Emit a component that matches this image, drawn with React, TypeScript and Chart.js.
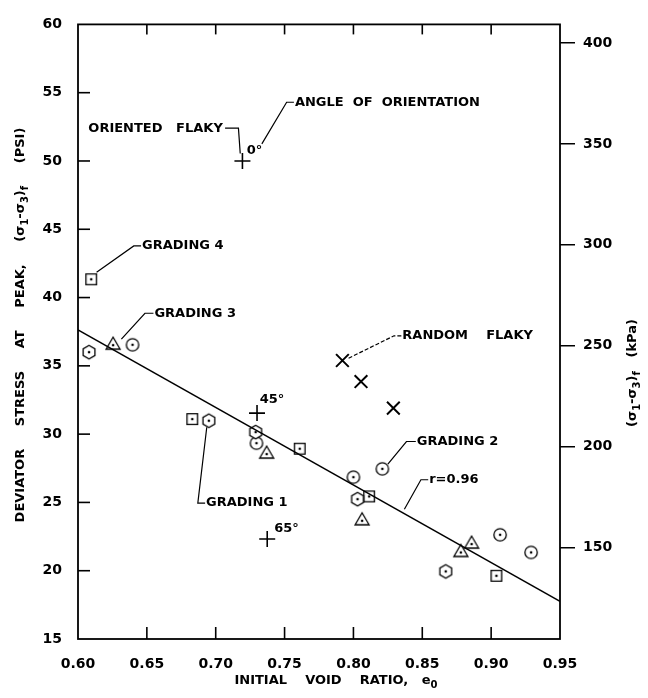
import React, { useEffect, useRef } from 'react';
import { Chart, registerables } from 'chart.js';

Chart.register(...registerables);

// ---------- data ----------
const xTicks = [0.6, 0.65, 0.7, 0.75, 0.8, 0.85, 0.9, 0.95];
const xTickLabels = ['0.60', '0.65', '0.70', '0.75', '0.80', '0.85', '0.90', '0.95'];
const psiTicks = [15, 20, 25, 30, 35, 40, 45, 50, 55, 60];
const kpaTicks = [150, 200, 250, 300, 350, 400];

const grading1X = [0.608, 0.695, 0.729, 0.803, 0.867];
const grading1Y = [36.0, 30.98, 30.15, 25.24, 19.95];
const grading2X = [0.6396, 0.7296, 0.8, 0.821, 0.9065, 0.929];
const grading2Y = [36.54, 29.34, 26.85, 27.46, 22.63, 21.34];
const grading3X = [0.6255, 0.737, 0.8063, 0.878, 0.8858];
const grading3Y = [36.59, 28.61, 23.73, 21.41, 22.02];
const grading4X = [0.6096, 0.683, 0.761, 0.8114, 0.9038];
const grading4Y = [41.34, 31.1, 28.93, 25.44, 19.63];
const orientedX = [0.7194, 0.73, 0.7374];
const orientedY = [50.0, 31.54, 22.32];
const randomX = [0.792, 0.8055, 0.829];
const randomY = [35.39, 33.85, 31.9];
const fitX = [0.6, 0.95];
const fitY = [37.63, 17.76];

type Ann = { text: string; x: number; y: number; leader?: number[][]; dash?: number[] };
const annotations: Ann[] = [
  { text: 'ORIENTED   FLAKY', x: 0.6075, y: 52.4, leader: [[0.7068, 52.4], [0.7165, 52.4], [0.7178, 50.55]] },
  { text: '0°', x: 0.7225, y: 50.75 },
  { text: 'ANGLE  OF  ORIENTATION', x: 0.7575, y: 54.3, leader: [[0.7568, 54.3], [0.7515, 54.3], [0.7335, 51.25]] },
  { text: 'GRADING 4', x: 0.6465, y: 43.78, leader: [[0.6458, 43.78], [0.6405, 43.78], [0.6135, 41.85]] },
  { text: 'GRADING 3', x: 0.6555, y: 38.85, leader: [[0.6548, 38.85], [0.6486, 38.85], [0.6315, 36.95]] },
  { text: 'RANDOM    FLAKY', x: 0.8355, y: 37.2, leader: [[0.8348, 37.2], [0.8295, 37.2], [0.7965, 35.56]], dash: [4, 2] },
  { text: '45°', x: 0.732, y: 32.5 },
  { text: 'GRADING 2', x: 0.846, y: 29.46, leader: [[0.8453, 29.46], [0.8385, 29.46], [0.825, 27.8]] },
  { text: 'GRADING 1', x: 0.693, y: 24.95, leader: [[0.6923, 24.95], [0.687, 24.95], [0.6935, 30.5]] },
  { text: '65°', x: 0.7425, y: 23.1 },
  { text: 'r=0.96', x: 0.855, y: 26.66, leader: [[0.8543, 26.66], [0.849, 26.66], [0.837, 24.5]] },
];

const FONT = '"DejaVu Sans"';

function makeMarker(kind: string): HTMLCanvasElement {
  const size = 20;
  const c = document.createElement('canvas');
  c.width = size;
  c.height = size;
  const g = c.getContext('2d')!;
  g.strokeStyle = '#000';
  g.fillStyle = '#000';
  g.lineWidth = 1.3;
  const cx = size / 2;
  const cy = size / 2;
  g.beginPath();
  let dy = 0;
  if (kind === 'circle') {
    g.arc(cx, cy, 6.2, 0, Math.PI * 2);
  } else if (kind === 'square') {
    g.rect(cx - 5.3, cy - 5.3, 10.6, 10.6);
  } else if (kind === 'triangle') {
    g.moveTo(cx, cy - 7);
    g.lineTo(cx + 7, cy + 5);
    g.lineTo(cx - 7, cy + 5);
    g.closePath();
    dy = 1;
  } else {
    for (let i = 0; i < 6; i++) {
      const a = -Math.PI / 2 + (i * Math.PI) / 3;
      const px = cx + 6.8 * Math.cos(a);
      const py = cy + 6.8 * Math.sin(a);
      if (i === 0) g.moveTo(px, py);
      else g.lineTo(px, py);
    }
    g.closePath();
  }
  g.fillStyle = '#fff';
  g.fill();
  g.stroke();
  g.fillStyle = '#000';
  g.beginPath();
  g.arc(cx, cy + dy, 1.3, 0, Math.PI * 2);
  g.fill();
  return c;
}

type Part = [string, boolean];
function drawRich(ctx: CanvasRenderingContext2D, parts: Part[], cx: number, cy: number, size: number) {
  const main = `bold ${size}px ${FONT}`;
  const sub = `bold ${Math.round(size * 0.75)}px ${FONT}`;
  let total = 0;
  parts.forEach(([t, s]) => {
    ctx.font = s ? sub : main;
    total += ctx.measureText(t).width;
  });
  let x = cx - total / 2;
  ctx.textAlign = 'left';
  ctx.textBaseline = 'middle';
  parts.forEach(([t, s]) => {
    ctx.font = s ? sub : main;
    ctx.fillText(t, x, s ? cy + 4 : cy);
    x += ctx.measureText(t).width;
  });
}

const sigmaParts: Part[] = [['(σ', false], ['1', true], ['-σ', false], ['3', true], [')', false], ['f', true]];

const titlePlugin = {
  id: 'titles',
  afterDraw(chart: any) {
    const ctx: CanvasRenderingContext2D = chart.ctx;
    ctx.save();
    ctx.fillStyle = '#000';
    // x title
    drawRich(ctx, [['INITIAL    VOID    RATIO,   e', false], ['0', true]], 336, 681, 13);
    // left title
    ctx.save();
    ctx.translate(21, 325);
    ctx.rotate(-Math.PI / 2);
    drawRich(ctx, [['DEVIATOR     STRESS     AT     PEAK,     ', false], ...sigmaParts, ['     (PSI)', false]], 0, 0, 13);
    ctx.restore();
    // right title
    ctx.save();
    ctx.translate(633, 373);
    ctx.rotate(-Math.PI / 2);
    drawRich(ctx, [...sigmaParts, ['   (kPa)', false]], 0, 0, 13);
    ctx.restore();
    ctx.restore();
  },
};

const framePlugin = {
  id: 'frame',
  afterDatasetsDraw(chart: any) {
    const { ctx, chartArea, scales } = chart;
    const { left, right, top, bottom } = chartArea;
    ctx.save();
    ctx.strokeStyle = '#000';
    ctx.lineWidth = 1.8;
    ctx.strokeRect(left, top, right - left, bottom - top);
    ctx.lineWidth = 1.6;
    const seg = (a: number, b: number, c: number, d: number) => {
      ctx.beginPath();
      ctx.moveTo(a, b);
      ctx.lineTo(c, d);
      ctx.stroke();
    };
    xTicks.slice(1, -1).forEach((v) => {
      const px = scales.x.getPixelForValue(v);
      seg(px, top, px, top + 10);
      seg(px, bottom, px, bottom - 12);
    });
    psiTicks.slice(1, -1).forEach((v) => {
      const py = scales.y.getPixelForValue(v);
      seg(left, py, left + 12, py);
    });
    // annotations
    ctx.fillStyle = '#000';
    ctx.font = `bold 13px ${FONT}`;
    ctx.textAlign = 'left';
    ctx.textBaseline = 'middle';
    annotations.forEach((a) => {
      ctx.fillText(a.text, scales.x.getPixelForValue(a.x), scales.y.getPixelForValue(a.y));
      if (a.leader) {
        ctx.lineWidth = 1.2;
        ctx.setLineDash(a.dash || []);
        ctx.beginPath();
        a.leader.forEach(([lx, ly], i) => {
          const px = scales.x.getPixelForValue(lx);
          const py = scales.y.getPixelForValue(ly);
          if (i === 0) ctx.moveTo(px, py);
          else ctx.lineTo(px, py);
        });
        ctx.stroke();
        ctx.setLineDash([]);
      }
    });
    ctx.restore();
  },
};

const pts = (xs: number[], ys: number[]) => xs.map((x, i) => ({ x, y: ys[i] }));

export default function App() {
  const ref = useRef<HTMLCanvasElement | null>(null);
  useEffect(() => {
    document.body.style.margin = '0';
    if (!ref.current) return;
    const tickFont = { family: FONT, size: 14, weight: 'bold' as const };
    const chart = new Chart(ref.current, {
      type: 'scatter',
      data: {
        datasets: [
          {
            type: 'line',
            data: pts(fitX, fitY),
            borderColor: '#000',
            borderWidth: 1.4,
            pointRadius: 0,
            fill: false,
          } as any,
          { label: 'Grading 1', data: pts(grading1X, grading1Y), pointStyle: makeMarker('hexagon'), pointRadius: 7 } as any,
          { label: 'Grading 2', data: pts(grading2X, grading2Y), pointStyle: makeMarker('circle'), pointRadius: 7 } as any,
          { label: 'Grading 3', data: pts(grading3X, grading3Y), pointStyle: makeMarker('triangle'), pointRadius: 7 } as any,
          { label: 'Grading 4', data: pts(grading4X, grading4Y), pointStyle: makeMarker('square'), pointRadius: 7 } as any,
          {
            label: 'Oriented flaky',
            data: pts(orientedX, orientedY),
            pointStyle: 'cross',
            pointRadius: 8,
            borderColor: '#000',
            borderWidth: 1.6,
          } as any,
          {
            label: 'Random flaky',
            data: pts(randomX, randomY),
            pointStyle: 'crossRot',
            pointRadius: 9,
            borderColor: '#000',
            borderWidth: 2,
          } as any,
        ],
      },
      options: {
        animation: false,
        responsive: false,
        maintainAspectRatio: false,
        devicePixelRatio: 1,
        layout: { padding: { top: 23, left: 0, right: 0, bottom: 0 } },
        plugins: { legend: { display: false }, tooltip: { enabled: false }, title: { display: false } },
        scales: {
          x: {
            type: 'linear',
            position: 'bottom',
            min: 0.6,
            max: 0.95,
            afterBuildTicks: (s: any) => {
              s.ticks = xTicks.map((v) => ({ value: v }));
            },
            afterFit: (s: any) => {
              s.height = 59;
            },
            grid: { display: false, drawTicks: false },
            border: { display: false },
            ticks: {
              color: '#000',
              font: tickFont,
              padding: 17,
              maxRotation: 0,
              autoSkip: false,
              callback: (_v: any, i: number) => xTickLabels[i],
            },
          },
          y: {
            type: 'linear',
            position: 'left',
            min: 15,
            max: 60,
            afterBuildTicks: (s: any) => {
              s.ticks = psiTicks.map((v) => ({ value: v }));
            },
            afterFit: (s: any) => {
              s.width = 78;
            },
            grid: { display: false, drawTicks: false },
            border: { display: false },
            ticks: { color: '#000', font: tickFont, padding: 16, autoSkip: false },
          },
          y2: {
            type: 'linear',
            position: 'right',
            min: 104.5,
            max: 409.3,
            afterBuildTicks: (s: any) => {
              s.ticks = kpaTicks.map((v) => ({ value: v }));
            },
            afterFit: (s: any) => {
              s.width = 88;
            },
            grid: { display: true, drawOnChartArea: false, drawTicks: true, tickLength: 15, color: '#000', lineWidth: 1.5 },
            border: { display: false },
            ticks: { color: '#000', font: tickFont, padding: 8, autoSkip: false },
          },
        },
      } as any,
      plugins: [framePlugin, titlePlugin],
    });
    return () => chart.destroy();
  }, []);
  return (
    <div style={{ width: 648, height: 698, background: '#fff' }}>
      <canvas ref={ref} width={648} height={698} style={{ width: 648, height: 698, display: 'block' }} />
    </div>
  );
}
